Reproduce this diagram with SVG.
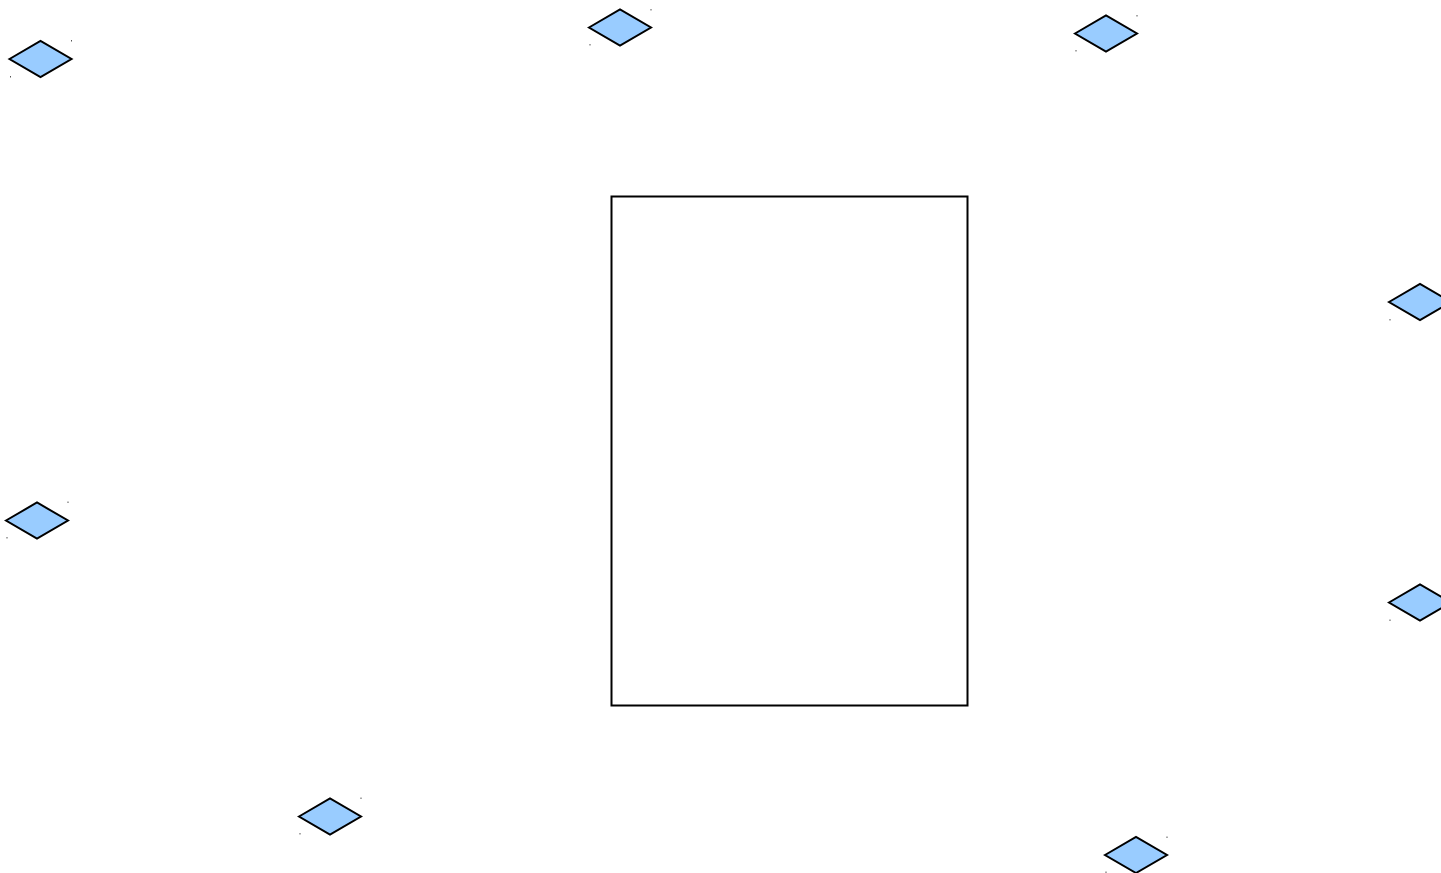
<svg xmlns="http://www.w3.org/2000/svg" width="1441" height="873" viewBox="0 0 1441 873">
<defs>
<style>
.d{fill:#99ccff;stroke:#000;stroke-width:2;stroke-linejoin:miter}
.m{fill:#555}
.box{fill:#fff;stroke:#000;stroke-width:2}
</style>
<polygon id="dia" class="d" points="-31,0 0,-18 31,0 0,18"/>
</defs>
<rect width="1441" height="873" fill="#fff"/>
<g id="container"><rect class="box" x="611.5" y="196.5" width="356" height="509"/></g>
<g id="connectors"></g>
<g id="n1"><use href="#dia" x="40.5" y="59"/><rect class="m" x="71" y="40" width="1" height="1.5"/><rect class="m" x="10" y="76" width="1" height="1.5"/></g>
<g id="n2"><use href="#dia" x="620" y="27.5"/><rect class="m" x="650.5" y="9" width="1" height="1.5"/><rect class="m" x="589.5" y="44" width="1" height="1.5"/></g>
<g id="n3"><use href="#dia" x="1106" y="33.5"/><rect class="m" x="1136.5" y="15" width="1" height="1.5"/><rect class="m" x="1075.5" y="50" width="1" height="1.5"/></g>
<g id="n4"><use href="#dia" x="1420" y="302"/><rect class="m" x="1389.5" y="319" width="1" height="1.5"/></g>
<g id="n5"><use href="#dia" x="37" y="520.5"/><rect class="m" x="67.5" y="501.5" width="1" height="1.5"/><rect class="m" x="6.5" y="537" width="1" height="1.5"/></g>
<g id="n6"><use href="#dia" x="330" y="816.5"/><rect class="m" x="360.5" y="797.5" width="1" height="1.5"/><rect class="m" x="299.5" y="833" width="1" height="1.5"/></g>
<g id="n7"><use href="#dia" x="1136" y="855"/><rect class="m" x="1166.5" y="836.5" width="1" height="1.5"/><rect class="m" x="1105.5" y="871.5" width="1" height="1.5"/></g>
<g id="n8"><use href="#dia" x="1420" y="602.5"/><rect class="m" x="1389.5" y="619.5" width="1" height="1.5"/></g>
</svg>
